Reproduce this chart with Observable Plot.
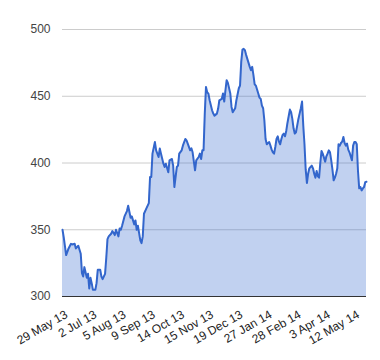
<!DOCTYPE html>
<html>
<head>
<meta charset="utf-8">
<script src="https://cdn.jsdelivr.net/npm/d3@7"></script>
<script src="https://cdn.jsdelivr.net/npm/@observablehq/plot@0.6"></script>
<style>
  html, body { margin: 0; padding: 0; background: #fff; }
  #chart { width: 380px; height: 360px; }
</style>
</head>
<body>
<div id="chart"></div>
<script>
// Trading-day index of each reading
const dayIndex = [
  0,1,3,5,7,8,10,11,13,15,16,17,18,20,21,22,23,24,25,27,28,29,31,32,33,35,36,37,38,40,
  41,43,44,46,47,48,49,51,53,54,56,57,59,60,61,62,64,65,66,67,69,71,72,73,74,76,77,79,80,81,
  83,84,85,87,88,90,91,92,94,95,96,98,99,101,102,103,105,106,107,109,110,112,113,114,115,116,117,118,119,120,
  121,123,124,125,127,128,129,131,132,133,134,135,136,138,139,140,142,143,145,146,147,148,149,150,151,152,153,154,155,156,
  157,158,159,160,161,162,163,164,165,166,167,168,169,170,171,172,173,174,175,176,177,178,179,180,181,182,183,184,185,186,
  187,188,189,190,191,192,193,194,195,196,197,198,199,200,201,202,203,204,205,206,207,208,209,210,211,212,213,214,215,216,
  217,218,219,220,221,222,223,224,225,226,227,228,229,230,231,232,233,234,235,236,237,238,239,240,241,242,243,244,245,246,
  247,248,249,250
];
// Closing price read for each index above
const price = [
  350,344.5,331,336,339.5,339,339.5,336,338,332,317.5,315,322,314,317,306,314,310,305,305,310,320,320,315,313,317,329,343,345,347,
  349,346,350,345,351,350,353,360,364,368,359,360,354,357,350,353,342,340,345,362,366,370,389.5,389.5,407,415.7,409.5,404.5,410.8,407,
  399.5,397,399.5,393,402,403,398,382,397,398,407,409.5,413,418,417,414.5,409.5,411,408,394.5,402,404.5,407,403,409.5,409.5,437,457,453,452,
  447,439.5,437,435.5,437,440.8,447,448,452,446,454.5,462,460,452,442,438,441,447,456,458,476,485,485.5,484.5,481,478,475,472,469.5,472,
  466,459,458,455,452,449,448,443,441,432,418,414,415,415.7,413,410,408,407,412,418,420,416,414,418,421,422,420,424,430,435,
  440,438,433,426,422,423,428,433,437,441,446,428,414,395,385,392,396,397,398,396,392,389,394,390,389,400,409,407,404,401,
  405,407,409.5,408,402,395,387,389,392,396,414,413,415,416,419.5,415,413,414.5,410,408,405,402,413,415.7,415.7,414,394,381,382,379.5,
  381,382,385.7,386
];
const tickIndex = [0, 24, 48, 72, 96, 120, 144, 168, 192, 216, 240];
const tickLabels = ["29 May 13", "2 Jul 13", "5 Aug 13", "9 Sep 13", "14 Oct 13", "15 Nov 13",
                    "19 Dec 13", "27 Jan 14", "28 Feb 14", "3 Apr 14", "12 May 14"];
const yTicks = [300, 350, 400, 450, 500];

const data = dayIndex.map((d, k) => ({i: d, v: price[k]}));

const chart = Plot.plot({
  width: 380,
  height: 360,
  marginLeft: 62,
  marginRight: 14,
  marginTop: 29,
  marginBottom: 64,
  style: {fontFamily: "'Liberation Sans', Arial, sans-serif", fontSize: "12px", color: "#444", background: "#fff"},
  x: {domain: [0, 250]},
  y: {domain: [300, 500]},
  marks: [
    Plot.gridY(yTicks.slice(1), {stroke: "#cccccc", strokeOpacity: 1}),
    Plot.areaY(data, {x: "i", y1: 300, y2: "v", fill: "#3366cc", fillOpacity: 0.3}),
    Plot.lineY(data, {x: "i", y: "v", stroke: "#3366cc", strokeWidth: 2}),
    Plot.ruleY([300], {stroke: "#333333"}),
    Plot.axisY({ticks: yTicks, tickSize: 0, tickPadding: 12, label: null, fill: "#444", fontSize: 12}),
    Plot.axisX({ticks: tickIndex, tickFormat: d => tickLabels[tickIndex.indexOf(d)], tickRotate: -30,
                tickSize: 0, tickPadding: 15, dx: 4, dy: 2, label: null, fill: "#222", fontSize: 12})
  ]
});
document.getElementById("chart").appendChild(chart);
</script>
</body>
</html>
